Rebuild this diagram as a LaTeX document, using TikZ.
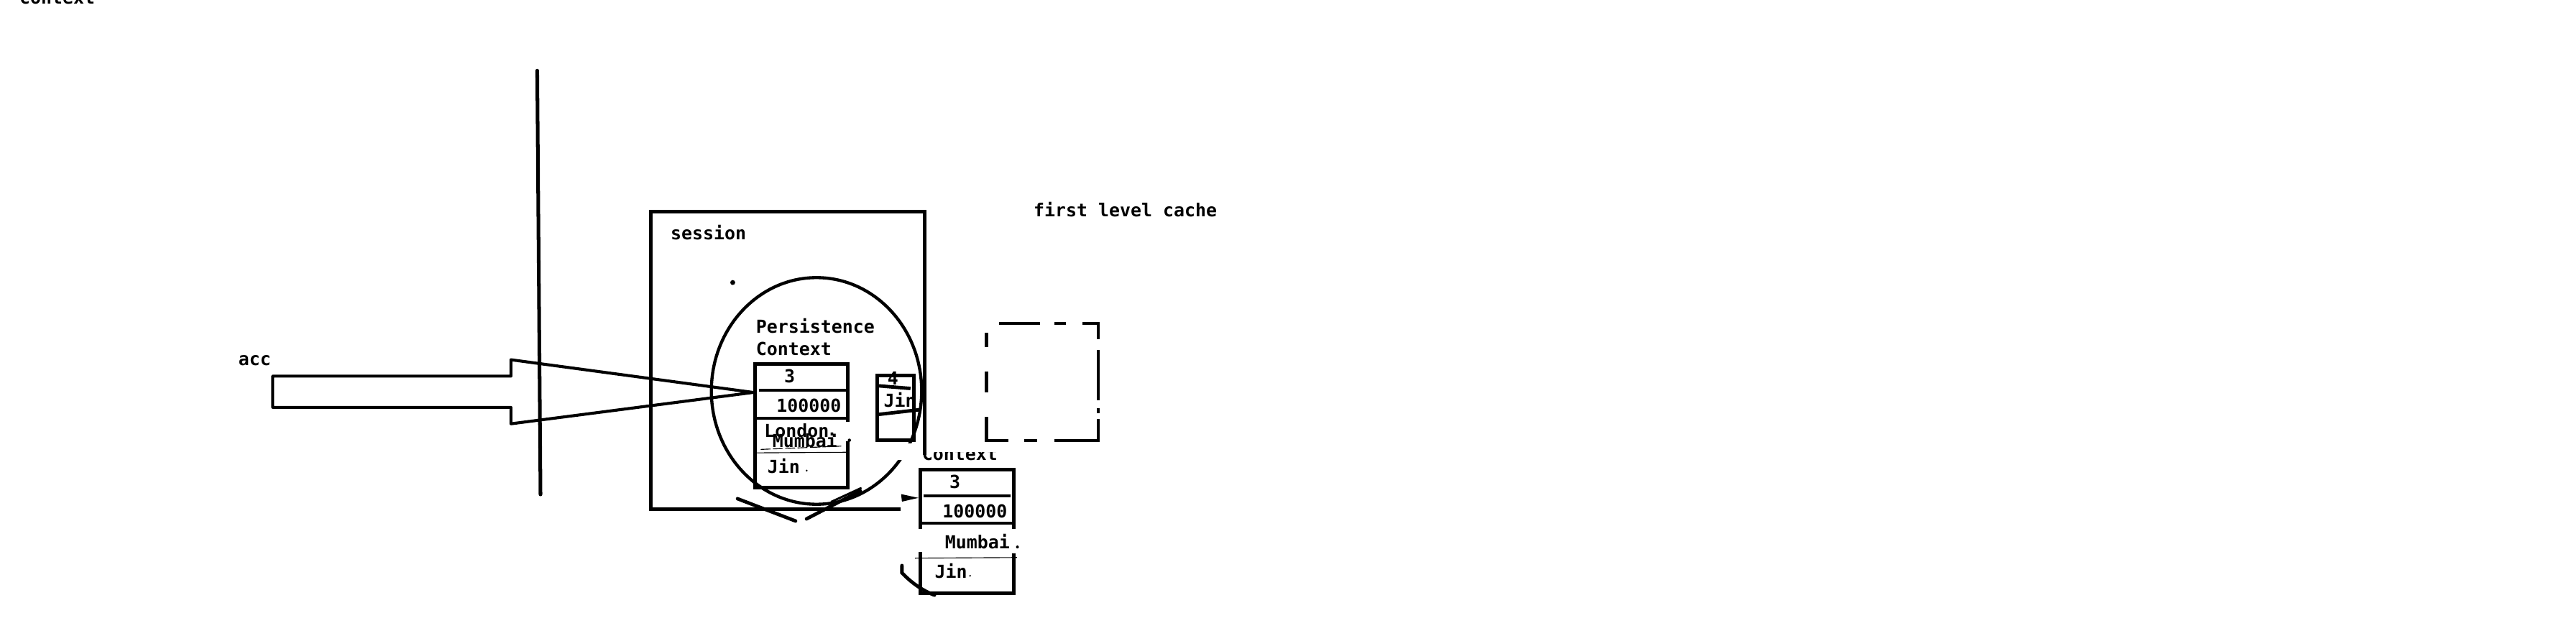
\documentclass[tikz,border=0pt]{standalone}
\usepackage{fontspec}
\setmainfont{DejaVu Sans Mono}
\begin{document}
\begin{tikzpicture}[x=1pt,y=-1pt,
  stroke/.style={line width=2.1pt,line join=miter},
  heavy/.style={line width=2.2pt,line cap=round},
  slim/.style={line width=0.5pt},
  lbl/.style={font=\fontsize{10.9}{12}\selectfont\bfseries,inner sep=0pt,anchor=base west},
  tbl/.style={draw,line width=2.1pt,inner sep=0pt,anchor=north west},
  erase/.style={fill=white,draw=none}]
\useasboundingbox[fill=white] (0,0) rectangle (1568,387);
\clip (0,0) rectangle (1568,387);

% clipped caption at the very top
\node[lbl] (ctxtop) at (11.7,2.6) {context};

% vertical divider
\coordinate (vtop) at (327,43);
\coordinate (vbot) at (329,301);
\draw[heavy] (vtop) -- (vbot);

% session box (open at bottom-right corner)
\draw[stroke] (548,310) -- (396,310) -- (396,129) -- (563,129) -- (563,277);
\node[lbl] (session) at (408,146) {session};
\fill (446,172) circle (1.5pt);

% persistence context circle
\draw[line width=1.9pt] (497,238) ellipse [x radius=64pt, y radius=69pt];
\fill[erase] (545,270) rectangle (559.5,280);

\node[lbl] (pc1) at (460,202.6) {Persistence};
\node[lbl] (pc2) at (460,216.3) {Context};

% table inside the circle
\node[tbl,minimum width=56.5pt,minimum height=75.3pt] (t1) at (458.5,220.5) {};
\draw[stroke] (462,237.6) -- (515,237.6);
\draw[stroke] (459.6,254.6) -- (516.6,254.6);
\fill[erase] (508,256.8) rectangle (519.5,268.5);
\fill (517,268) circle (1pt);
\node[lbl] (t1a) at (477.2,232.8) {3};
\node[lbl] (t1b) at (472.5,250.7) {100000};
\node[lbl] (t1c) at (465,266) {London.};
\node[lbl] (t1d) at (470,272.5) {Mumbai};
\node[lbl] (t1e) at (467,288) {Jin};
\fill (491,286.5) circle (0.6pt);
\draw[slim,dash pattern=on 6pt off 1.5pt] (463,273.6) -- (512,271.6);
\draw[slim] (458.7,275.7) -- (517,275.3);

% small table (4 / Jin)
\node[lbl] (t2a) at (540,234.5) {4};
\node[lbl] (t2b) at (537.8,248) {Jin};
\node[tbl,minimum width=22.3pt,minimum height=39.5pt] (t2) at (533,227.5) {};
\draw[stroke] (533.8,234.8) -- (554.2,236.5);
\draw[stroke] (533.8,252.4) -- (560,249.4);

% second table below
\begin{scope}
  \clip (540,275.6) rectangle (625,290);
  \node[lbl] (ctx2) at (561,280.4) {Context};
\end{scope}
\node[tbl,minimum width=57pt,minimum height=75.3pt] (t3) at (559,284.7) {};
\draw[stroke] (562,301.9) -- (615,301.9);
\draw[stroke] (560.5,318.5) -- (617,318.5);
\fill[erase] (556.5,322) rectangle (562,336);
\fill[erase] (613.5,322) rectangle (619.5,337);
\fill (619.3,333) circle (0.9pt);
\draw[slim] (557,339.8) -- (619,339.4);
\node[lbl] (t3a) at (577.8,297.3) {3};
\node[lbl] (t3b) at (573.5,315) {100000};
\node[lbl] (t3c) at (575,334) {Mumbai};
\node[lbl] (t3d) at (568.8,352) {Jin};
\fill (590.5,350.5) circle (0.6pt);

% small arrowhead into the second table
\coordinate (a3) at (548.5,303.1);
\fill (a3) ++(0,-2.3) -- (t3.west |- a3) -- ++(-10,2.3) -- cycle;

% V strokes under the session box
\draw[stroke,line cap=round] (448.9,303.6) -- (484.3,317.2);
\draw[stroke,line cap=round] (490.9,315.9) -- (523.7,298.8);
\draw[line width=1.3pt,line cap=round] (506,305.5) -- (524,297.2);

% hook near the second table
\draw[stroke,line cap=round] (549,344.3) -- (549,348.7) .. controls (553,353) and (560,359) .. (568.8,362.3);

% big "acc" arrow into the table
\coordinate (tip) at (458.5,238.9);
\draw[line width=1.8pt,line join=round] (311,229) -- (166,229) -- (166,248) -- (311,248) -- (311,258) -- (tip) -- (311,219) -- cycle;
\node[lbl] (acc) at (145,222.5) {acc};

% first level cache
\node[lbl] (flc) at (629,132) {first level cache};
\begin{scope}[line width=2.1pt]
  % top
  \draw (608,196.9) -- (633,196.9);
  \draw (642,196.9) -- (649,196.9);
  \draw (659,196.9) -- (669.5,196.9);
  % right
  \draw (668.5,196) -- (668.5,206.5);
  \draw (668.5,213) -- (668.5,243.6);
  \draw (668.5,248.5) -- (668.5,251.5);
  \draw (668.5,255) -- (668.5,269);
  % bottom
  \draw (599.5,268.2) -- (614,268.2);
  \draw (623.4,268.2) -- (631.4,268.2);
  \draw (641.8,268.2) -- (669.5,268.2);
  % left
  \draw (600.5,202.6) -- (600.5,211.4);
  \draw (600.5,226) -- (600.5,239);
  \draw (600.5,253.8) -- (600.5,268);
\end{scope}
\end{tikzpicture}
\end{document}
